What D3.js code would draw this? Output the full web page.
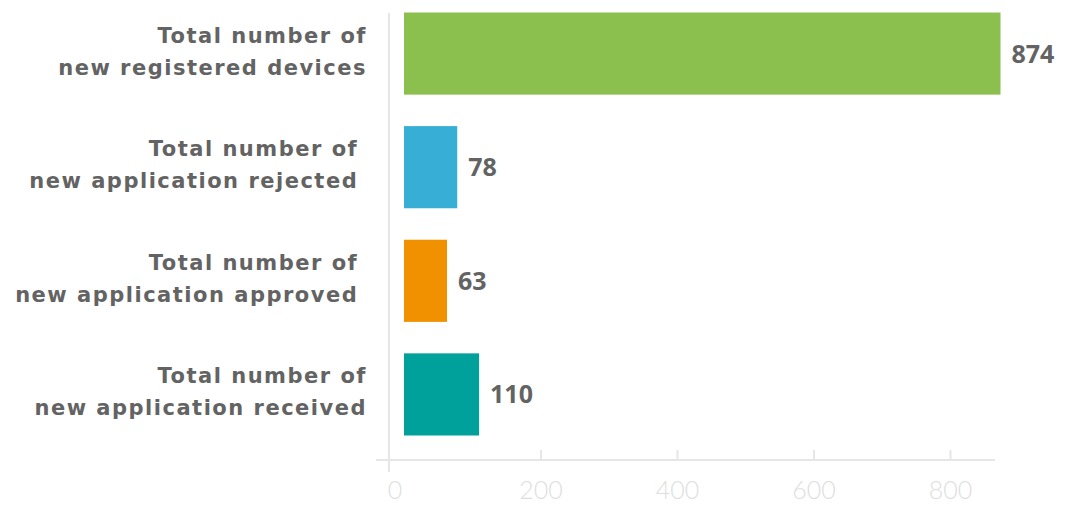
<!DOCTYPE html>
<html>
<head>
<meta charset="utf-8">
<script src="https://cdn.jsdelivr.net/npm/d3@7"></script>
<style>
html,body{margin:0;padding:0;background:#fff;}
svg{display:block;}
</style>
</head>
<body>
<svg id="chart" width="1066" height="505"></svg>
<script>
const categories = [
  ["Total number of", "new registered devices"],
  ["Total number of\u00a0", "new application rejected\u00a0"],
  ["Total number of\u00a0", "new application approved\u00a0"],
  ["Total number of", "new application received"]
];
const values = [874, 78, 63, 110];
const colors = ["#8bc04f", "#36aed6", "#f29100", "#00a19a"];
const tickValues = [0, 200, 400, 600, 800];

const svg = d3.select("#chart");
const x = d3.scaleLinear().domain([0, 800]).range([404, 950]);
const y = d3.scaleBand().domain(d3.range(categories.length)).range([0, 448]).paddingInner(0.277).paddingOuter(0.11);

const labelFont = "'DejaVu Sans', sans-serif";
const valueFont = "'Open Sans', sans-serif";

// vertical axis line
svg.append("line").attr("x1", 389).attr("x2", 389).attr("y1", 13).attr("y2", 472)
  .attr("stroke", "#e6e6e6").attr("stroke-width", 2);

// x axis
const ax = svg.append("g").attr("transform", "translate(0,460)")
  .call(d3.axisBottom(x).tickValues(tickValues).tickSizeInner(-10).tickSizeOuter(0).tickPadding(0));
ax.select(".domain").remove();
ax.append("line").attr("x1", 376).attr("x2", 995).attr("stroke", "#e6e6e6").attr("stroke-width", 2);
ax.selectAll(".tick line").attr("stroke", "#e6e6e6").attr("stroke-width", 2);
ax.selectAll(".tick text").attr("fill", "#dedede").attr("font-family", "Lato, sans-serif")
  .attr("font-weight", 300).attr("font-size", 25).attr("dy", null).attr("y", 39);
ax.selectAll(".tick").filter(d => d === 0).attr("transform", "translate(395,0)")
  .select("line").remove();

// bars
svg.selectAll("rect.bar").data(values).join("rect").attr("class", "bar")
  .attr("x", x(0)).attr("y", (d, i) => y(i))
  .attr("width", d => x(d) - x(0)).attr("height", y.bandwidth())
  .attr("fill", (d, i) => colors[i]);

// value labels
svg.selectAll("text.val").data(values).join("text").attr("class", "val")
  .attr("x", d => x(d) + 11).attr("y", (d, i) => y(i) + y.bandwidth() / 2)
  .attr("dy", "0.36em").attr("fill", "#636363").attr("font-family", valueFont)
  .attr("font-weight", 700).attr("font-size", 25).text(d => d);

// category labels
const cl = svg.selectAll("text.cat").data(categories).join("text").attr("class", "cat")
  .attr("text-anchor", "end").attr("fill", "#636363").attr("font-family", labelFont)
  .attr("font-weight", 700).attr("font-size", 21).attr("letter-spacing", 1.5)
  .attr("xml:space", "preserve");
cl.selectAll("tspan").data(d => d).join("tspan")
  .attr("x", 367)
  .attr("y", function (d, j) {
    const i = categories.indexOf(d3.select(this.parentNode).datum());
    return y(i) + y.bandwidth() / 2 + (j === 0 ? -11 : 21);
  })
  .text(d => d);
</script>
</body>
</html>
